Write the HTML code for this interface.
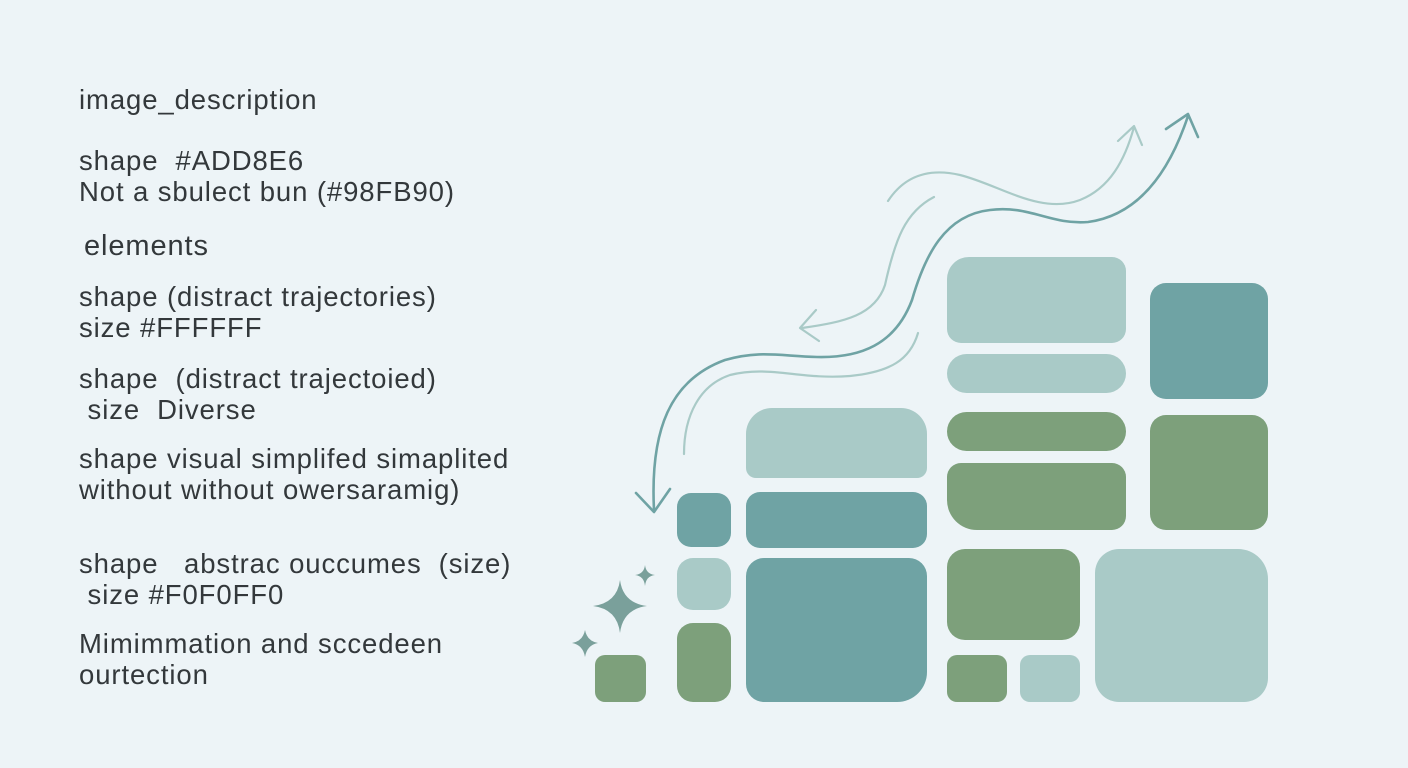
<!DOCTYPE html>
<html><head><meta charset="utf-8"><style>
html,body{margin:0;padding:0}
body{width:1408px;height:768px;background:#edf4f7;position:relative;overflow:hidden;font-family:"Liberation Sans",sans-serif;color:#33383b}
.t{position:absolute;left:79px;font-size:27.5px;line-height:31px;white-space:pre;letter-spacing:0.9px}
.b{position:absolute;border-radius:18px}
.L{background:#a9cac7}.T{background:#6fa3a4}.G{background:#7da07b}
</style></head><body>
<div class="t" style="top:84px">image_description</div>
<div class="t" style="top:145px">shape  #ADD8E6
Not a sbulect bun (#98FB90)</div>
<div class="t" style="top:231px;left:84px;font-size:29px">elements</div>
<div class="t" style="top:281px">shape (distract trajectories)
size #FFFFFF</div>
<div class="t" style="top:363px">shape  (distract trajectoied)
 size  Diverse</div>
<div class="t" style="top:443px">shape visual simplifed simaplited
without without owersaramig)</div>
<div class="t" style="top:548px">shape   abstrac ouccumes  (size)
 size #F0F0FF0</div>
<div class="t" style="top:628px">Mimimmation and sccedeen
ourtection</div>

<div class="b G" style="left:595px;top:655px;width:51px;height:47px;border-radius:10px"></div>
<div class="b T" style="left:677px;top:493px;width:54px;height:54px;border-radius:14px"></div>
<div class="b L" style="left:677px;top:558px;width:54px;height:52px;border-radius:16px"></div>
<div class="b G" style="left:677px;top:623px;width:54px;height:79px;border-radius:16px"></div>
<div class="b L" style="left:746px;top:408px;width:181px;height:70px;border-radius:26px 26px 10px 10px"></div>
<div class="b T" style="left:746px;top:492px;width:181px;height:56px;border-radius:14px"></div>
<div class="b T" style="left:746px;top:558px;width:181px;height:144px;border-radius:18px 18px 30px 18px"></div>
<div class="b L" style="left:947px;top:257px;width:179px;height:86px;border-radius:22px 14px 14px 14px"></div>
<div class="b L" style="left:947px;top:354px;width:179px;height:39px;border-radius:20px"></div>
<div class="b G" style="left:947px;top:412px;width:179px;height:39px;border-radius:20px"></div>
<div class="b G" style="left:947px;top:463px;width:179px;height:67px;border-radius:14px 14px 14px 30px"></div>
<div class="b G" style="left:947px;top:549px;width:133px;height:91px;border-radius:18px"></div>
<div class="b G" style="left:947px;top:655px;width:60px;height:47px;border-radius:10px"></div>
<div class="b L" style="left:1020px;top:655px;width:60px;height:47px;border-radius:10px"></div>
<div class="b T" style="left:1150px;top:283px;width:118px;height:116px;border-radius:16px"></div>
<div class="b G" style="left:1150px;top:415px;width:118px;height:115px;border-radius:16px"></div>
<div class="b L" style="left:1095px;top:549px;width:173px;height:153px;border-radius:24px 30px 24px 24px"></div>

<svg width="1408" height="768" style="position:absolute;left:0;top:0" fill="none" stroke-linecap="round" stroke-linejoin="round">
<g stroke="#a9cac7" stroke-width="2.2">
<path d="M888,201 C905,175 930,168 960,175 C1000,185 1040,215 1080,200 C1110,188 1125,160 1134,127"/>
<path d="M1118,141 L1134,126 L1142,145"/>
<path d="M934,197 C905,212 895,240 885,285 C875,315 845,322 802,328"/>
<path d="M816,310 L800,328 L819,341"/>
<path d="M918,333 C910,360 890,372 850,376 C800,380 770,365 730,375 C700,385 684,415 684,454"/>
</g>
<g stroke="#6fa3a4" stroke-width="2.6">
<path d="M1188,116 C1170,170 1140,215 1088,222 C1050,225 1030,205 990,210 C945,215 925,255 912,300 C895,345 860,358 817,357 C780,356 760,350 725,360 C670,380 650,430 654,510"/>
<path d="M1166,129 L1188,114 L1198,137"/>
<path d="M636,493 L654,512 L670,489"/>
</g>
<g fill="#7aa09b">
<path d="M620,580 Q623,603 647,606 Q623,609 620,633 Q617,609 593,606 Q617,603 620,580Z"/>
<path d="M645,565 Q646,574 655,575 Q646,576 645,586 Q644,576 635,575 Q644,574 645,565Z"/>
<path d="M585,630 Q587,641 598,643 Q587,645 585,657 Q583,645 572,643 Q583,641 585,630Z"/>
</g>
</svg>
</body></html>
